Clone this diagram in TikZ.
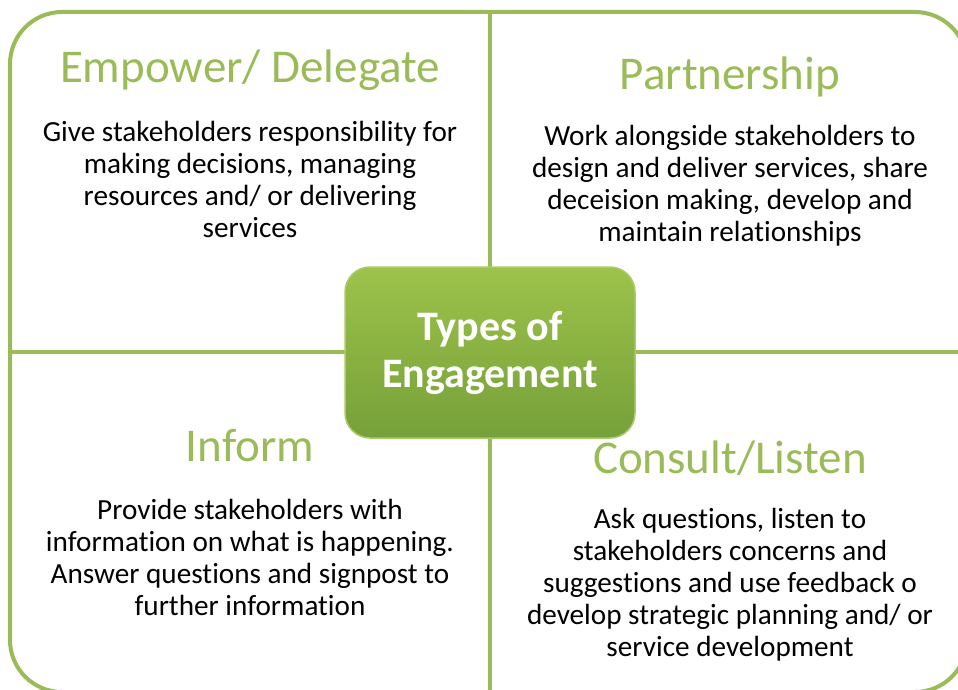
\documentclass[tikz,border=0pt]{standalone}
\usepackage{fontspec}
\setmainfont{Carlito}[RawFeature={-liga;-clig;-calt;-dlig}]
\definecolor{leaf}{HTML}{9BBB59}
\definecolor{boxtop}{HTML}{9DC34A}
\definecolor{boxbot}{HTML}{76A03A}
\definecolor{boxrim}{HTML}{A9CB6A}
\tikzset{
  frame/.style={draw=leaf, line width=4pt, rounded corners=52pt, inner sep=0pt},
  divider/.style={draw=leaf, line width=4pt},
  core/.style={rounded corners=25pt, top color=boxtop, bottom color=boxbot, draw=boxrim, line width=1.5pt,
    minimum width=290pt, minimum height=171pt, inner sep=0pt, align=center, text=white,
    font=\fontsize{42}{47}\selectfont\bfseries},
  heading/.style={text=leaf, inner sep=0pt, font=\fontsize{47}{52}\selectfont},
  body/.style={text=black, inner sep=0pt, align=center, font=\fontsize{29.2}{32}\selectfont}
}
\begin{document}
\begin{tikzpicture}[x=1pt,y=-1pt]
\useasboundingbox (0,0) rectangle (958,690);
\clip (0,0) rectangle (958,690);
\node[frame, minimum width=957pt, minimum height=680pt] (outer) at (488.5,352) {};
\draw[divider] (490,12) -- (490,692);
\draw[divider] (10,352) -- (967,352);
\node[core] (center) at (490,352.5) {Types of\\Engagement};
\node[heading] (h1) at (250,70) {Empower/ Delegate};
\node[body] (b1) at (250,179) {Give stakeholders responsibility for\\making decisions, managing\\resources and/ or delivering\\services};
\node[heading] (h2) at (730,77) {Partnership};
\node[body] (b2) at (730,186) {Work alongside stakeholders to\\design and deliver services, share\\deceision making, develop and\\maintain relationships};
\node[heading] (h3) at (250,446) {Inform};
\node[body] (b3) at (250,557) {Provide stakeholders with\\information on what is happening.\\Answer questions and signpost to\\further information};
\node[heading] (h4) at (730,458) {Consult/Listen};
\node[body] (b4) at (730,585) {Ask questions, listen to\\stakeholders concerns and\\suggestions and use feedback o\\develop strategic planning and/ or\\service development};
\end{tikzpicture}
\end{document}
